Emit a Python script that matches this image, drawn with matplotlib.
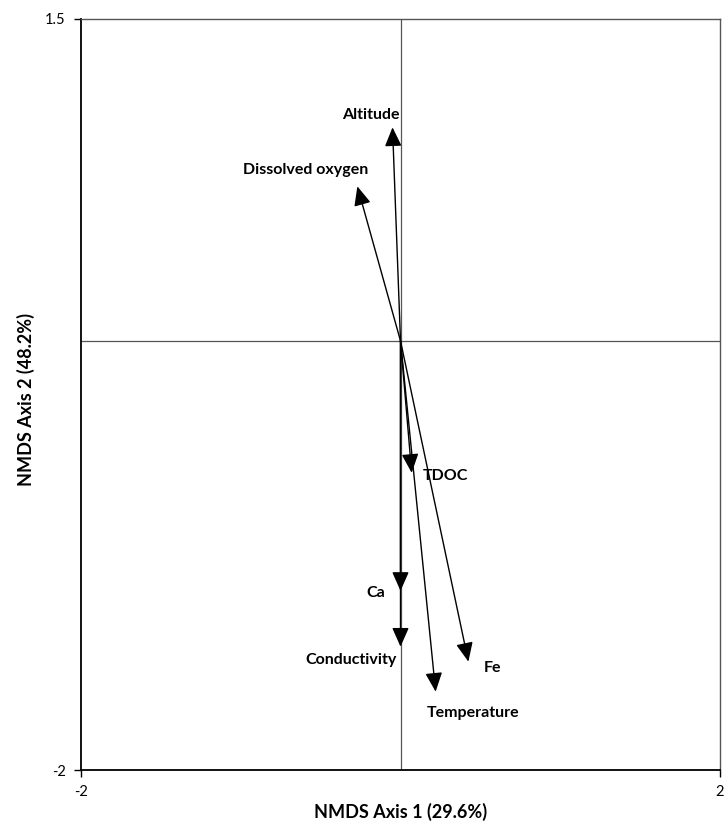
import matplotlib
matplotlib.use("Agg")
import matplotlib.pyplot as plt

plt.rcParams['font.family'] = ['Lato', 'DejaVu Sans']

variables = ["Altitude", "Dissolved oxygen", "TDOC", "Ca", "Conductivity", "Fe", "Temperature"]
axis1 = [-0.05, -0.27, 0.07, 0.0, 0.0, 0.425, 0.22]
axis2 = [0.995, 0.72, -0.615, -1.165, -1.425, -1.495, -1.635]

x_ticks = [-2, 2]
y_ticks = [-2, 1.5]

# label placement (pixel offsets from arrow tips, alignment)
label_style = {
    "Altitude": ((7, 12), 'right'),
    "Dissolved oxygen": ((11, 16), 'right'),
    "TDOC": ((11, -3), 'left'),
    "Ca": ((-15, -2), 'right'),
    "Conductivity": ((-4, -13), 'right'),
    "Fe": ((15, -6), 'left'),
    "Temperature": ((-9, -21), 'left'),
}

fig = plt.figure(figsize=(7.25, 8.25), dpi=100)
ax = fig.add_axes([81/725, 1-770/825, (720-81)/725, (770-19)/825])
ax.set_xlim(x_ticks[0], x_ticks[-1])
ax.set_ylim(y_ticks[0], y_ticks[-1])

ax.axvline(0, color='#555555', lw=0.9, zorder=1)
ax.axhline(0, color='#555555', lw=0.9, zorder=1)

for name, x, y in zip(variables, axis1, axis2):
    ax.annotate('', xy=(x, y), xytext=(0, 0),
                arrowprops=dict(arrowstyle='-|>,head_length=0.9,head_width=0.4',
                                mutation_scale=13, color='black', lw=1.0,
                                shrinkA=0, shrinkB=0), zorder=3)
    off, ha = label_style[name]
    ax.annotate(name, xy=(x, y), xytext=off, textcoords='offset pixels',
                ha=ha, va='center', fontsize=11.5, fontweight='bold')

ax.set_xticks(x_ticks)
ax.set_yticks(y_ticks)
ax.set_xticklabels([str(v) for v in x_ticks])
ax.set_yticklabels([str(v) for v in y_ticks])
ax.tick_params(direction='out', length=5, width=1, labelsize=10.5, pad=6)

for s in ['left', 'bottom']:
    ax.spines[s].set_linewidth(1.3)
    ax.spines[s].set_color('black')
for s in ['top', 'right']:
    ax.spines[s].set_linewidth(1.0)
    ax.spines[s].set_color('#555555')

ax.set_xlabel("NMDS Axis 1 (29.6%)", fontsize=13, fontweight='bold')
ax.set_ylabel("NMDS Axis 2 (48.2%)", fontsize=13, fontweight='bold')
ax.xaxis.set_label_coords(0.5, (770-803)/751)
ax.yaxis.set_label_coords((35-81)/639, (770-400)/751)

fig.savefig("out.png", dpi=100)
